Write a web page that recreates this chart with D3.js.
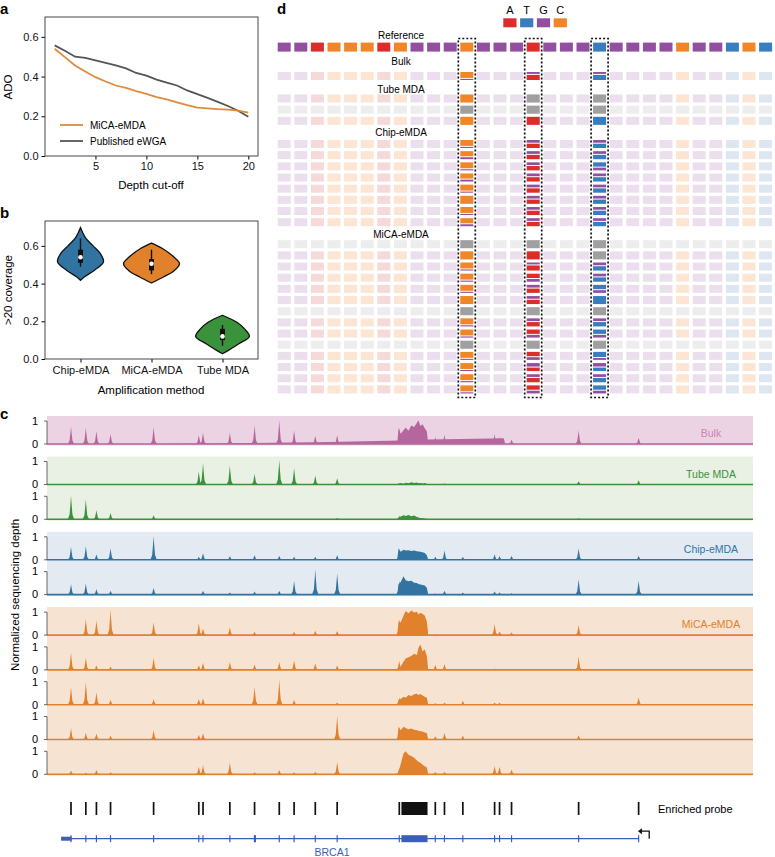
<!DOCTYPE html>
<html>
<head>
<meta charset="utf-8">
<script src="https://cdn.jsdelivr.net/npm/d3@7"></script>
<style>
  body { margin: 0; background: #fff; }
  svg { display: block; font-family: "Liberation Sans", Arial, sans-serif; }
</style>
</head>
<body>
<div class="canva"></div>
<script>
// ---------- panel a : ADO vs depth cut-off
const depthCutoff = [1, 2, 3, 4, 5, 6, 7, 8, 9, 10, 11, 12, 13, 14, 15, 16, 17, 18, 19, 20];
const micaADO = [0.540, 0.498, 0.456, 0.426, 0.397, 0.375, 0.355, 0.343, 0.327, 0.313, 0.297, 0.285, 0.270, 0.256, 0.244, 0.240, 0.236, 0.234, 0.229, 0.219];
const ewgaADO = [0.557, 0.530, 0.500, 0.494, 0.481, 0.469, 0.456, 0.441, 0.418, 0.405, 0.385, 0.370, 0.355, 0.330, 0.312, 0.293, 0.273, 0.252, 0.228, 0.198];
const adoTicksY = [0, 0.2, 0.4, 0.6];
const adoTicksX = [5, 10, 15, 20];

// ---------- panel b : >20 coverage violins
const methods = ['Chip-eMDA', 'MiCA-eMDA', 'Tube MDA'];
// [value, relative density]
const violinChip = [[0.417, 0], [0.435, 0.13], [0.47, 0.49], [0.515, 0.82], [0.559, 0.71], [0.60, 0.45], [0.638, 0.2], [0.67, 0.08], [0.697, 0]];
const violinMica = [[0.403, 0], [0.435, 0.42], [0.47, 0.82], [0.506, 1.0], [0.541, 0.8], [0.586, 0.39], [0.615, 0]];
const violinTube = [[0.028, 0], [0.046, 0.21], [0.082, 0.6], [0.12, 0.96], [0.161, 0.78], [0.196, 0.5], [0.232, 0]];
// whisker low, q1, median, q3, whisker high
const boxChip = [0.49, 0.51, 0.54, 0.58, 0.64];
const boxMica = [0.45, 0.47, 0.505, 0.53, 0.58];
const boxTube = [0.07, 0.10, 0.12, 0.16, 0.18];
const covTicksY = [0, 0.2, 0.4, 0.6];

// ---------- panel c : coverage tracks over BRCA1 (kb)
const exonKb = [3.4, 5.5, 7.0, 9.0, 15.1, 21.5, 22.1, 25.9, 29.4, 32.9, 35.0, 38.0, 41.1, 49.9, 55.0, 56.3, 58.9, 63.4, 64.1, 65.8, 75.3, 83.8];
const blockKb = [49.6, 49.8, 50.1, 50.5, 50.8, 51.2, 51.6, 52.0, 52.4, 52.6, 52.9, 53.2, 53.5, 53.8, 54.0];
const groupNames = ['Bulk', 'Tube MDA', 'Chip-eMDA', 'MiCA-eMDA'];
const groupSizes = [1, 2, 2, 5];

const peakBulk  = [0.77, 0.71, 0.56, 0.43, 0.74, 0.39, 0.50, 0.50, 0.81, 1.03, 0.60, 0.36, 0.39, 0.70, 0.31, 0.41, 0, 0.43, 0.30, 0.20, 0.60, 0.27];
const peakTube1 = [0, 0, 0, 0, 0.02, 0.57, 0.93, 0.83, 0.47, 1.07, 0.71, 0.39, 0.27, 0, 0, 0.05, 0, 0, 0, 0.02, 0.14, 0.19];
const peakTube2 = [1.04, 0.87, 0.40, 0.28, 0.18, 0, 0, 0, 0, 0, 0, 0, 0.06, 0.15, 0, 0, 0, 0, 0, 0, 0.05, 0];
const peakChip1 = [0.57, 0.60, 0.24, 0.50, 1.03, 0.14, 0.29, 0.16, 0.20, 0.17, 0.14, 0.13, 0.20, 0.43, 0.14, 0.41, 0.13, 0.24, 0.16, 0.17, 0.50, 0.17];
const peakChip2 = [0.46, 0.49, 0.24, 0.17, 0.29, 0.03, 0.17, 0.09, 0.14, 0.17, 0.60, 1.10, 0.93, 0.60, 0.05, 0.17, 0.10, 0.14, 0.10, 0.06, 0.67, 0.60];
const peakMica1 = [0, 0.70, 0.63, 1.10, 0.56, 0.53, 0.29, 0.34, 0.15, 0, 0.15, 0.19, 0.18, 0.70, 0.04, 0, 0, 0.49, 0.16, 0.12, 0.44, 0];
const peakMica2 = [0.75, 0.53, 0.19, 0.15, 0.53, 0.19, 0.31, 0.34, 0.24, 0.34, 0.41, 0.29, 0.19, 0.40, 0.22, 0.26, 0.03, 0.06, 0.04, 0, 0.59, 0];
const peakMica3 = [0.78, 1.00, 0.54, 0.22, 0.25, 0.25, 0.28, 0, 0.78, 1.09, 0.22, 0, 0.10, 0.32, 0.07, 0.10, 0.17, 0.10, 0.10, 0, 0, 0.32];
const peakMica4 = [0.50, 0.29, 0.26, 0.17, 0.40, 0.21, 0.27, 0, 0.03, 0, 0, 0.03, 1.03, 0.50, 0.14, 0.29, 0.17, 0, 0, 0, 0.19, 0];
const peakMica5 = [0.16, 0.07, 0.19, 0.09, 0, 0.33, 0.40, 0.51, 0.09, 0.19, 0.09, 0.11, 0.54, 0.29, 0.10, 0.10, 0, 0.36, 0.33, 0.21, 0, 0];

const blockBulk  = [0, 0.70, 0.45, 0.60, 0.72, 0.58, 0.80, 0.74, 0.92, 1.03, 0.78, 0.86, 0.68, 0.55, 0];
const blockTube1 = [0, 0.04, 0.06, 0.03, 0.08, 0.05, 0.10, 0.06, 0.09, 0.05, 0.07, 0.04, 0.06, 0.03, 0];
const blockTube2 = [0, 0.06, 0.12, 0.18, 0.14, 0.19, 0.13, 0.16, 0.10, 0.08, 0.06, 0.05, 0.04, 0.02, 0];
const blockChip1 = [0, 0.50, 0.35, 0.44, 0.40, 0.42, 0.38, 0.40, 0.37, 0.36, 0.35, 0.33, 0.30, 0.20, 0];
const blockChip2 = [0, 0.45, 0.55, 0.80, 0.62, 0.58, 0.60, 0.52, 0.50, 0.46, 0.44, 0.42, 0.40, 0.30, 0];
const blockMica1 = [0, 0.60, 0.55, 0.85, 1.05, 0.95, 1.07, 0.98, 1.02, 0.90, 0.97, 0.92, 0.85, 0.60, 0];
const blockMica2 = [0, 0.08, 0.15, 0.35, 0.50, 0.55, 0.60, 0.70, 0.65, 0.95, 1.10, 0.80, 0.90, 0.60, 0];
const blockMica3 = [0, 0.20, 0.25, 0.35, 0.30, 0.42, 0.38, 0.45, 0.48, 0.42, 0.47, 0.40, 0.35, 0.30, 0];
const blockMica4 = [0, 0.57, 0.40, 0.55, 0.50, 0.45, 0.48, 0.42, 0.40, 0.38, 0.36, 0.35, 0.30, 0.28, 0];
const blockMica5 = [0, 0.10, 0.45, 0.90, 1.00, 0.85, 0.80, 0.72, 0.60, 0.55, 0.50, 0.42, 0.35, 0.30, 0];

// bulk background ramp [kb, depth]
const bulkRamp = [[13, 0], [25, 0.03], [40, 0.09], [50, 0.15], [54, 0.2], [63, 0.24], [64.7, 0.25], [64.9, 0]];

const probeBlock = [50.2, 53.9];
const geneSpan = [2.0, 83.8];
const geneThick = [[2.0, 3.5, 4], [29.3, 29.6, 7], [50.2, 53.9, 7]];

// ---------- panel d : genotype grid
const bases = ['A', 'T', 'G', 'C'];
const refSeq = 'GGACCCACGGGCGGGAGGGTGGGGCGGTCT'.split('');
const hlCols = [11, 15, 19];
const bulkCalls = [['C8G', 'G3A', 'G3T']];
const tubeCalls = [['C', 'N', 'N'], ['N', 'N', 'N'], ['C', 'A', 'T']];
const chipCalls = [
  ['C8G', 'G4A', 'G4T'], ['C7G', 'G4A', 'G4T'], ['C8G', 'G4A', 'T6G'], ['C7G', 'G4A', 'G4T'],
  ['C8G', 'G4A', 'G4T'], ['C', 'G4A', 'G4T'], ['C8G', 'G4A', 'G4T'], ['C7G', 'G4A', 'G4T']
];
const micaCalls = [
  ['N', 'N', 'N'], ['C', 'A', 'N'], ['C8G', 'G3A', 'G4T'], ['C8G', 'A6G', 'G4T'],
  ['C8G', 'G4A', 'T6G'], ['C', 'G4A', 'T'], ['N', 'N', 'N'], ['C8G', 'G4A', 'G4T'],
  ['C8G', 'A6G', 'T6G'], ['N', 'N', 'N'], ['C8G', 'A6G', 'T7G'], ['C8G', 'G5A', 'G5T'],
  ['C8G', 'G4A', 'G4T'], ['C8G', 'A6G', 'T6G']
];

// ======================================================
const svg = d3.select('.canva').append('svg')
  .attr('width', 775)
  .attr('height', 857);

const panelLabel = (t, x, y) => svg.append('text').attr('x', x).attr('y', y)
  .attr('font-size', 15).attr('font-weight', 'bold').text(t);

panelLabel('a', 0, 14);
panelLabel('b', 0, 218);
panelLabel('c', 0, 419);
panelLabel('d', 277, 14);

// ---------------- panel a
const ax = d3.scaleLinear().domain([0.05, 20.95]).range([45, 258]);
const ay = d3.scaleLinear().domain([0, 0.7]).range([156, 17]);
const ga = svg.append('g');

ga.append('g').attr('transform', 'translate(0,156)')
  .call(d3.axisBottom(ax).tickValues(adoTicksX).tickSize(3.5).tickPadding(3))
  .call(g => g.select('.domain').remove());
ga.append('g').attr('transform', 'translate(45,0)')
  .call(d3.axisLeft(ay).tickValues(adoTicksY).tickFormat(d3.format('.1f')).tickSize(3.5).tickPadding(3))
  .call(g => g.select('.domain').remove());
ga.selectAll('.tick text').attr('font-size', 11).attr('fill', '#111');

const lineA = d3.line().x((d, i) => ax(depthCutoff[i])).y(d => ay(d));
ga.append('path').datum(ewgaADO).attr('d', lineA)
  .attr('fill', 'none').attr('stroke', '#555').attr('stroke-width', 1.8);
ga.append('path').datum(micaADO).attr('d', lineA)
  .attr('fill', 'none').attr('stroke', '#e08a3c').attr('stroke-width', 1.8);
ga.append('rect').attr('x', 45).attr('y', 17).attr('width', 213).attr('height', 139)
  .attr('fill', 'none').attr('stroke', '#333').attr('stroke-width', 0.9);

// legend
[['MiCA-eMDA', '#e08a3c', 125], ['Published eWGA', '#555', 141]].forEach(l => {
  ga.append('line').attr('x1', 60).attr('x2', 83).attr('y1', l[2]).attr('y2', l[2])
    .attr('stroke', l[1]).attr('stroke-width', 1.8);
  ga.append('text').attr('x', 90).attr('y', l[2] + 3.5).attr('font-size', 10).text(l[0]);
});
ga.append('text').attr('x', 151).attr('y', 189).attr('text-anchor', 'middle')
  .attr('font-size', 11.5).text('Depth cut-off');
ga.append('text').attr('transform', 'translate(12,87) rotate(-90)').attr('text-anchor', 'middle')
  .attr('font-size', 11.5).text('ADO');

// ---------------- panel b
const bx = d3.scalePoint().domain(methods).range([80.5, 222.5]);
const by = d3.scaleLinear().domain([0, 0.732]).range([359, 221]);
const bw = d3.scaleLinear().domain([0, 1]).range([0, 28]);
const gb = svg.append('g');

gb.append('g').attr('transform', 'translate(0,359)')
  .call(d3.axisBottom(bx).tickSize(3.5).tickPadding(3.5))
  .call(g => g.select('.domain').remove());
gb.append('g').attr('transform', 'translate(45,0)')
  .call(d3.axisLeft(by).tickValues(covTicksY).tickFormat(d3.format('.1f')).tickSize(3.5).tickPadding(3))
  .call(g => g.select('.domain').remove());
gb.selectAll('.tick text').attr('font-size', 11).attr('fill', '#111');

const violins = [violinChip, violinMica, violinTube];
const boxes = [boxChip, boxMica, boxTube];
const vColors = ['#3274a1', '#e1812c', '#3a923a'];

violins.forEach((v, i) => {
  const cx = bx(methods[i]);
  const area = d3.area()
    .y(d => by(d[0]))
    .x0(d => cx - bw(d[1]))
    .x1(d => cx + bw(d[1]))
    .curve(d3.curveCatmullRom);
  gb.append('path').datum(v).attr('d', area)
    .attr('fill', vColors[i]).attr('stroke', '#111').attr('stroke-width', 1.3);
  const b = boxes[i];
  gb.append('line').attr('x1', cx).attr('x2', cx).attr('y1', by(b[0])).attr('y2', by(b[4]))
    .attr('stroke', '#111').attr('stroke-width', 1.4);
  gb.append('line').attr('x1', cx).attr('x2', cx).attr('y1', by(b[1])).attr('y2', by(b[3]))
    .attr('stroke', '#111').attr('stroke-width', 5);
  gb.append('circle').attr('cx', cx).attr('cy', by(b[2])).attr('r', 2.3).attr('fill', '#fff');
});
gb.append('rect').attr('x', 45).attr('y', 221).attr('width', 213).attr('height', 138)
  .attr('fill', 'none').attr('stroke', '#333').attr('stroke-width', 0.9);
gb.append('text').attr('x', 151).attr('y', 394).attr('text-anchor', 'middle')
  .attr('font-size', 11.5).text('Amplification method');
gb.append('text').attr('transform', 'translate(12,290) rotate(-90)').attr('text-anchor', 'middle')
  .attr('font-size', 11.5).text('>20 coverage');

// ---------------- panel c
const cx = d3.scaleLinear().domain([0, 100]).range([47, 753]);
const gc = svg.append('g');
const trackPeaks = [peakBulk, peakTube1, peakTube2, peakChip1, peakChip2, peakMica1, peakMica2, peakMica3, peakMica4, peakMica5];
const trackBlocks = [blockBulk, blockTube1, blockTube2, blockChip1, blockChip2, blockMica1, blockMica2, blockMica3, blockMica4, blockMica5];
const fillCol = ['#b5679d', '#3a923a', '#3274a1', '#e1812c'];
const bgCol = ['#ecd3e3', '#e8f1e3', '#e3eaf2', '#f6e3d2'];
const labCol = ['#c884b7', '#3a923a', '#3274a1', '#e1812c'];

// baselines of each track
const trackGroup = [];
const trackBase = [];
let yb = 444;
groupSizes.forEach((n, g) => {
  for (let k = 0; k < n; k++) {
    trackGroup.push(g);
    trackBase.push(yb);
    yb += (k < n - 1) ? 34.8 : 40.5;
  }
});

// group backgrounds and labels
groupSizes.forEach((n, g) => {
  const idx = trackGroup.map((d, i) => d === g ? i : -1).filter(i => i >= 0);
  const top = trackBase[idx[0]] - 28;
  const bot = trackBase[idx[idx.length - 1]] + 1.5;
  gc.append('rect').attr('x', cx(0)).attr('y', top).attr('width', cx(100) - cx(0)).attr('height', bot - top)
    .attr('fill', bgCol[g]);
  gc.append('text').attr('x', 711).attr('y', trackBase[idx[0]] - 7).attr('text-anchor', 'middle')
    .attr('font-size', 10.5).attr('fill', labCol[g]).text(groupNames[g]);
});

const hw = 0.45;
const peakArea = d3.area().x(d => d[0]).y1(d => d[1]);

trackPeaks.forEach((pk, t) => {
  const g = trackGroup[t];
  const base = trackBase[t];
  const ty = d3.scaleLinear().domain([0, 1]).range([base, base - 23]);
  const tg = gc.append('g');
  peakArea.y0(base);

  if (t === 0) {
    tg.append('path').datum(bulkRamp.map(d => [cx(d[0]), ty(d[1])]))
      .attr('d', peakArea).attr('fill', fillCol[g]);
  }
  // exon peaks
  pk.forEach((h, i) => {
    if (h <= 0) return;
    const p = exonKb[i];
    const pts = [[p - hw, 0], [p - hw * 0.45, h * 0.2], [p - hw * 0.12, h * 0.75], [p, h],
                 [p + hw * 0.12, h * 0.75], [p + hw * 0.45, h * 0.2], [p + hw, 0]];
    tg.append('path').datum(pts.map(d => [cx(d[0]), ty(d[1])]))
      .attr('d', peakArea).attr('fill', fillCol[g]);
  });
  // large exon block
  tg.append('path').datum(trackBlocks[t].map((v, i) => [cx(blockKb[i]), ty(v)]))
    .attr('d', peakArea).attr('fill', fillCol[g]);
  // baseline
  tg.append('line').attr('x1', cx(0)).attr('x2', cx(100)).attr('y1', base).attr('y2', base)
    .attr('stroke', fillCol[g]).attr('stroke-width', 1.6);
  // y axis 0..1
  tg.append('line').attr('x1', 47).attr('x2', 47).attr('y1', ty(0)).attr('y2', ty(1))
    .attr('stroke', '#444').attr('stroke-width', 0.8);
  [0, 1].forEach(v => {
    tg.append('line').attr('x1', 44).attr('x2', 47).attr('y1', ty(v)).attr('y2', ty(v))
      .attr('stroke', '#444').attr('stroke-width', 0.8);
    tg.append('text').attr('x', 38).attr('y', ty(v) + 3.8).attr('text-anchor', 'end')
      .attr('font-size', 11).text(v);
  });
});

gc.append('text').attr('transform', 'translate(19,595) rotate(-90)').attr('text-anchor', 'middle')
  .attr('font-size', 11.5).text('Normalized sequencing depth');

// enriched probes
gc.selectAll('.probe').data(exonKb).enter().append('line')
  .attr('x1', d => cx(d)).attr('x2', d => cx(d))
  .attr('y1', 802).attr('y2', 815)
  .attr('stroke', '#111').attr('stroke-width', 1.7);
gc.append('rect').attr('x', cx(probeBlock[0])).attr('y', 802)
  .attr('width', cx(probeBlock[1]) - cx(probeBlock[0])).attr('height', 13).attr('fill', '#111');
gc.append('text').attr('x', 658).attr('y', 813).attr('font-size', 11).text('Enriched probe');

// gene model
const geneY = 838.7;
const geneBlue = '#3b5fb3';
gc.append('line').attr('x1', cx(geneSpan[0])).attr('x2', cx(geneSpan[1]))
  .attr('y1', geneY).attr('y2', geneY).attr('stroke', geneBlue).attr('stroke-width', 1.2);
gc.selectAll('.exontick').data(exonKb).enter().append('line')
  .attr('x1', d => cx(d)).attr('x2', d => cx(d))
  .attr('y1', geneY - 3.5).attr('y2', geneY + 3.5)
  .attr('stroke', geneBlue).attr('stroke-width', 1.2);
gc.selectAll('.thick').data(geneThick).enter().append('rect')
  .attr('x', d => cx(d[0])).attr('width', d => Math.max(1.5, cx(d[1]) - cx(d[0])))
  .attr('y', d => geneY - d[2] / 2).attr('height', d => d[2])
  .attr('fill', geneBlue);
// TSS arrow
gc.append('path').attr('d', `M${cx(85.3)},${geneY}V${geneY - 7.5}H${cx(84.2)}`)
  .attr('fill', 'none').attr('stroke', '#111').attr('stroke-width', 1.3);
gc.append('path').attr('d', `M${cx(83.7)},${geneY - 7.5}l4,-3v6z`).attr('fill', '#111');
gc.append('text').attr('x', 332).attr('y', 856).attr('text-anchor', 'middle')
  .attr('font-size', 10.5).attr('fill', geneBlue).text('BRCA1');

// ---------------- panel d
const baseCol = { A: '#dc2d2a', T: '#3a7dbe', G: '#924fa0', C: '#f08628', N: '#a0a0a0' };
const baseFaint = { A: '#f6d9d9', T: '#dde6f1', G: '#ebdfee', C: '#fce5d2', N: '#ededed' };
const dx = d3.scaleBand().domain(refSeq.map((d, i) => i)).range([277.7, 772.1]).paddingInner(0.217);
const gd = svg.append('g');
const pitch = 11.17;

// legend
bases.forEach((b, i) => {
  const x0 = 503.3 + i * 16.8;
  gd.append('rect').attr('x', x0).attr('y', 18.3).attr('width', 13.2).attr('height', 9).attr('fill', baseCol[b]);
  gd.append('text').attr('x', x0 + 6.6).attr('y', 14).attr('text-anchor', 'middle')
    .attr('font-size', 11).text(b);
});

const labelX = 401;
const dLabel = (t, y) => gd.append('text').attr('x', labelX).attr('y', y + 3.5)
  .attr('text-anchor', 'middle').attr('font-size', 10).text(t);

// reference row
dLabel('Reference', 35.7);
gd.selectAll('.ref').data(refSeq).enter().append('rect')
  .attr('x', (d, i) => dx(i)).attr('y', 42.6)
  .attr('width', dx.bandwidth()).attr('height', 9)
  .attr('fill', d => baseCol[d]);

const sampleCalls = [bulkCalls, tubeCalls, chipCalls, micaCalls];
const sectionLabelY = [61, 89.3, 132.5, 234.3];
const sectionRowY = [76, 98.5, 144, 244.2];

sampleCalls.forEach((rows, s) => {
  dLabel(groupNames[s], sectionLabelY[s]);
  rows.forEach((calls, r) => {
    const yc = sectionRowY[s] + r * pitch;
    const missing = calls.every(c => c === 'N');
    const rg = gd.append('g');
    rg.selectAll('rect').data(refSeq).enter().append('rect')
      .attr('x', (d, i) => dx(i)).attr('y', yc - 4)
      .attr('width', dx.bandwidth()).attr('height', 8)
      .attr('fill', d => missing ? baseFaint.N : baseFaint[d]);
    // highlighted positions
    calls.forEach((c, k) => {
      const x0 = dx(hlCols[k]);
      const w = dx.bandwidth();
      if (c.length === 1) {
        rg.append('rect').attr('x', x0).attr('y', yc - 4).attr('width', w).attr('height', 8)
          .attr('fill', baseCol[c]);
      } else {
        const f = +c[1] / 10;
        const hTop = 8 * f - 0.5;
        rg.append('rect').attr('x', x0).attr('y', yc - 4).attr('width', w).attr('height', 8)
          .attr('fill', '#fff');
        rg.append('rect').attr('x', x0).attr('y', yc - 4).attr('width', w).attr('height', hTop)
          .attr('fill', baseCol[c[0]]);
        rg.append('rect').attr('x', x0).attr('y', yc - 4 + hTop + 1).attr('width', w).attr('height', 8 - hTop - 1)
          .attr('fill', baseCol[c[2]]);
      }
    });
  });
});

// dashed boxes around the variant columns
hlCols.forEach(c => {
  gd.append('rect').attr('x', dx(c) - 2).attr('y', 38.5)
    .attr('width', dx.bandwidth() + 4).attr('height', 359)
    .attr('fill', 'none').attr('stroke', '#111').attr('stroke-width', 1.7)
    .attr('stroke-dasharray', '2,2');
});
</script>
</body>
</html>
